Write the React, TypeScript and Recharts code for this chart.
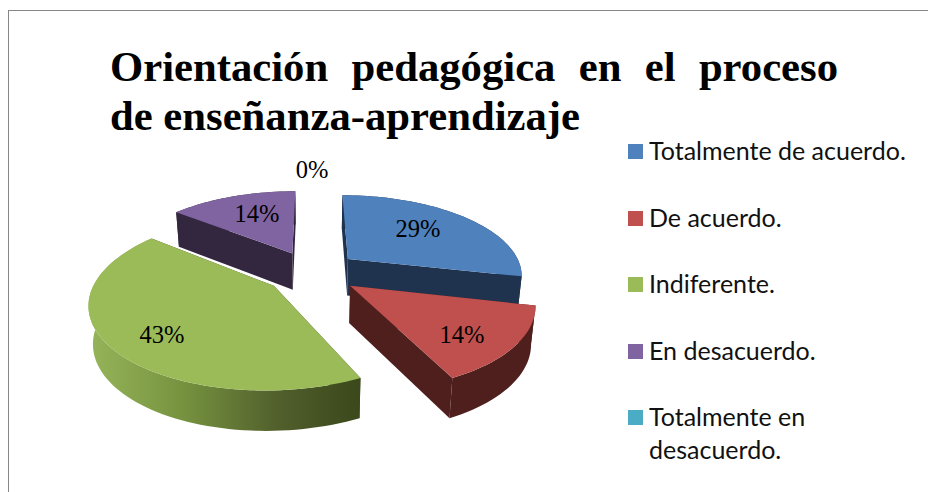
import React from "react";
import { PieChart, Pie, Legend } from "recharts";

const categories = ["Totalmente de acuerdo.", "De acuerdo.", "Indiferente.", "En desacuerdo.", "Totalmente en desacuerdo."];
const values = [2, 1, 3, 1, 0];
const topColors = ["#4F81BD", "#C0504D", "#9BBB59", "#8064A2", "#4BACC6"];
const wallColors = ["#1F334F", "#4F1F1E", "url(#greenWall)", "#33273F", "#1E4450"];
const titleLines = ["Orientación pedagógica en el proceso", "de enseñanza-aprendizaje"];

const tableData = categories.map((name, i) => ({ name, value: values[i], fill: topColors[i], wall: wallColors[i] }));

const TILT = 82 / 180;
const PERSPECTIVE = 0.183;
const EXPLODE = 0.27;
const DEPTH = 37;
const BOTTOM_SHRINK = 0.98;

const project = (cx: number, cy: number, R: number, u: number, v: number) => {
  const p = 1 / (1 - PERSPECTIVE * v);
  return { x: cx + R * u * p, y: cy + R * TILT * v * p, v };
};
const toBottom = (cx: number, pt: { x: number; y: number; v: number }) => ({
  x: cx + (pt.x - cx) * BOTTOM_SHRINK,
  y: pt.y + DEPTH * (1 + 0.08 * pt.v),
  v: pt.v,
});
const dir = (deg: number) => {
  const t = ((90 - deg) * Math.PI) / 180;
  return { u: Math.sin(t), v: -Math.cos(t) };
};
const toPath = (pts: { x: number; y: number }[]) =>
  pts.map((p, i) => `${i ? "L" : "M"}${p.x.toFixed(2)} ${p.y.toFixed(2)}`).join(" ") + " Z";

const Slice3D = (props: any) => {
  const { cx, cy, outerRadius: R, startAngle, endAngle, fill, wall } = props;
  if (Math.abs(startAngle - endAngle) < 0.01) return <g />;
  const mid = dir((startAngle + endAngle) / 2);
  const ox = mid.u * EXPLODE;
  const oy = mid.v * EXPLODE;
  const apex = project(cx, cy, R, ox, oy);
  const steps = Math.max(2, Math.ceil(Math.abs(startAngle - endAngle) / 2));
  const rim = Array.from({ length: steps + 1 }, (_, i) => {
    const d = dir(startAngle + ((endAngle - startAngle) * i) / steps);
    return project(cx, cy, R, ox + d.u, oy + d.v);
  });
  const rimBottom = rim.map((p) => toBottom(cx, p));
  const apexBottom = toBottom(cx, apex);
  const wallFill = wall;
  return (
    <g>
      <path d={toPath([apex, rim[0], rimBottom[0], apexBottom])} fill={wall.startsWith("url") ? "#3D4A1D" : wallFill} />
      <path d={toPath([apex, rim[rim.length - 1], rimBottom[rim.length - 1], apexBottom])} fill={wall.startsWith("url") ? "#3D4A1D" : wallFill} />
      <path d={toPath([...rim, ...[...rimBottom].reverse()])} fill={wallFill} />
      <path d={toPath([apex, ...rim])} fill={fill} />
    </g>
  );
};

const renderLabel = (props: any) => {
  const { cx, cy, outerRadius: R, midAngle, value, percent } = props;
  const d = dir(midAngle);
  const fx = value === 0 ? 1.42 : 0.64 + 0.08 * d.v;
  const fy = value === 0 ? 1.42 : 0.76 + 0.1 * d.v;
  const pt = project(cx, cy, R, d.u * (EXPLODE + fx), d.v * (EXPLODE + fy));
  return (
    <text x={pt.x} y={pt.y} textAnchor="middle" dominantBaseline="central" fill="#000" fontFamily="'Liberation Serif'" fontSize={24.5}>
      {`${Math.round(percent * 100)}%`}
    </text>
  );
};

const LegendList = () => (
  <div style={{ fontFamily: "Lato", fontSize: 25, color: "#111", lineHeight: "33px" }}>
    {categories.map((name, i) => (
      <div key={name} style={{ display: "flex", height: 66.6 }}>
        <div style={{ width: 15, height: 15, marginTop: 10, marginRight: 6, flex: "none", background: topColors[i] }} />
        <div style={{ width: 270 }}>{name}</div>
      </div>
    ))}
  </div>
);

export default function App() {
  return (
    <div style={{ position: "absolute", left: 0, top: 0, width: 928, height: 492, overflow: "hidden", background: "#fff" }}>
      <div style={{ position: "absolute", left: 8, top: 10, width: 920, height: 482, borderLeft: "1px solid #868686", borderTop: "1px solid #868686" }} />
      <div style={{ position: "absolute", left: 110, top: 43, width: 728, fontFamily: "'Liberation Serif'", fontWeight: 700, fontSize: 42.7, lineHeight: "48.5px", color: "#000" }}>
        <div style={{ textAlign: "justify", textAlignLast: "justify" }}>{titleLines[0]}</div>
        <div>{titleLines[1]}</div>
      </div>
      <PieChart width={928} height={492} style={{ position: "absolute", left: 0, top: 0 }}>
        <defs>
          <linearGradient id="greenWall" x1="0" y1="0" x2="1" y2="0">
            <stop offset="0%" stopColor="#96B55A" />
            <stop offset="35%" stopColor="#76923F" />
            <stop offset="70%" stopColor="#515F2C" />
            <stop offset="100%" stopColor="#3A481B" />
          </linearGradient>
        </defs>
        <Pie
          data={tableData}
          dataKey="value"
          nameKey="name"
          cx={307}
          cy={267}
          outerRadius={175}
          startAngle={90}
          endAngle={-270}
          stroke="none"
          isAnimationActive={false}
          labelLine={false}
          label={renderLabel}
          shape={Slice3D}
        />
        <Legend content={<LegendList />} layout="vertical" wrapperStyle={{ position: "absolute", left: 628, top: 134, width: 300, height: 340 }} />
      </PieChart>
    </div>
  );
}
